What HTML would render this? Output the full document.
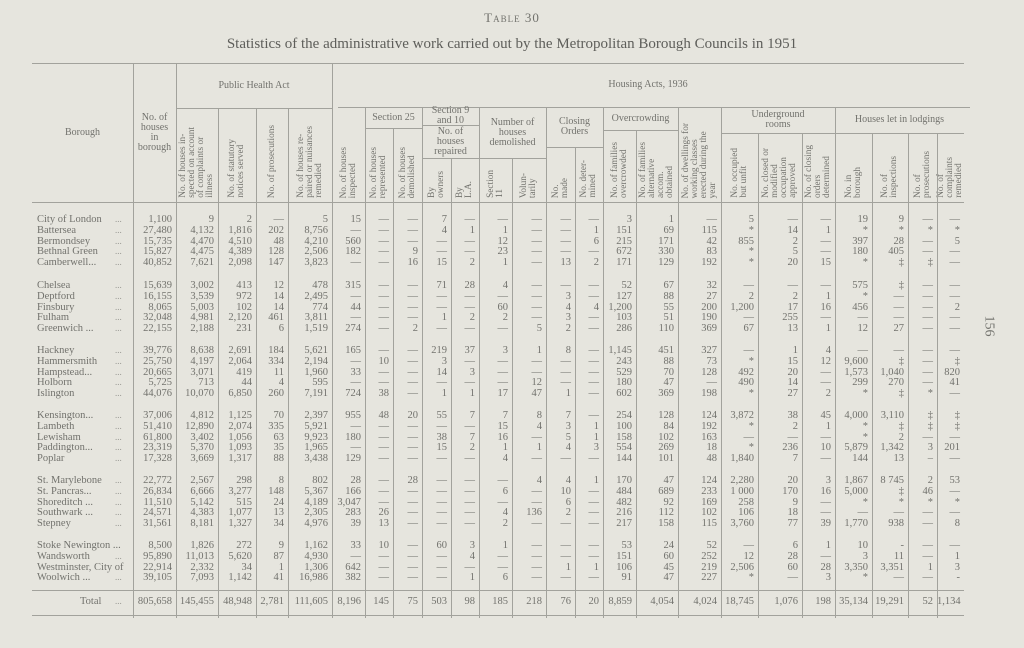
<!DOCTYPE html>
<html><head><meta charset="utf-8">
<style>
html,body{margin:0;padding:0}
body{width:1024px;height:648px;background:#e6e5de;position:relative;overflow:hidden;font-family:"Liberation Serif",serif;color:#72726d}
.a{position:absolute}
.hc{position:absolute;box-sizing:border-box;display:flex;align-items:center;justify-content:center;text-align:center;font-size:10px;line-height:10px}
.hv{align-items:flex-end;padding-bottom:4px}
.hv span{writing-mode:vertical-rl;transform:rotate(180deg);font-size:9.3px;line-height:9px;text-align:left;white-space:nowrap}
.hl{position:absolute;background:#a2a29c}
.cell{position:absolute;font-size:10.5px;line-height:11px;text-align:right;white-space:nowrap}
.nm{position:absolute;font-size:10.5px;line-height:11px;white-space:nowrap}
</style></head><body>
<div class="a" style="left:0;width:1024px;top:10px;text-align:center;font-size:13px;letter-spacing:1px;font-variant:small-caps">Table 30</div>
<div class="a" style="left:0;width:1024px;top:36px;text-align:center;font-size:15px;color:#5e5e5a">Statistics of the administrative work carried out by the Metropolitan Borough Councils in 1951</div>
<div class="a" style="left:978px;top:318px;font-size:14px;transform:rotate(90deg)">156</div>
<div id="tbl"></div>
<script>
const colEdges=[133,176,218,256,288,332,365,393,422,451,479,512,546,575,603,636,678,721,758,802,835,872,908,937,964];
const boroughs=["City of London","Battersea","Bermondsey","Bethnal Green","Camberwell...","Chelsea","Deptford","Finsbury","Fulham","Greenwich ...","Hackney","Hammersmith","Hampstead...","Holborn","Islington","Kensington...","Lambeth","Lewisham","Paddington...","Poplar","St. Marylebone","St. Pancras...","Shoreditch ...","Southwark ...","Stepney","Stoke Newington ...","Wandsworth","Westminster, City of","Woolwich ..."];
const D="—";
const rows=[
["1,100","9","2",D,"5","15",D,D,"7",D,D,D,D,D,"3","1",D,"5",D,D,"19","9",D,D],
["27,480","4,132","1,816","202","8,756",D,D,D,"4","1","1",D,D,"1","151","69","115","*","14","1","*","*","*","*"],
["15,735","4,470","4,510","48","4,210","560",D,D,D,D,"12",D,D,"6","215","171","42","855","2",D,"397","28",D,"5"],
["15,827","4,475","4,389","128","2,506","182",D,"9",D,D,"23",D,D,D,"672","330","83","*","5",D,"180","405",D,D],
["40,852","7,621","2,098","147","3,823",D,D,"16","15","2","1",D,"13","2","171","129","192","*","20","15","*","‡","‡",D],
["15,639","3,002","413","12","478","315",D,D,"71","28","4",D,D,D,"52","67","32",D,D,D,"575","‡",D,D],
["16,155","3,539","972","14","2,495",D,D,D,D,D,D,D,"3",D,"127","88","27","2","2","1","*",D,D,D],
["8,065","5,003","102","14","774","44",D,D,D,D,"60",D,"4","4","1,200","55","200","1,200","17","16","456",D,D,"2"],
["32,048","4,981","2,120","461","3,811",D,D,D,"1","2","2",D,"3",D,"103","51","190",D,"255",D,D,D,D,D],
["22,155","2,188","231","6","1,519","274",D,"2",D,D,D,"5","2",D,"286","110","369","67","13","1","12","27",D,D],
["39,776","8,638","2,691","184","5,621","165",D,D,"219","37","3","1","8",D,"1,145","451","327",D,"1","4",D,D,D,D],
["25,750","4,197","2,064","334","2,194",D,"10",D,"3",D,D,D,D,D,"243","88","73","*","15","12","9,600","‡",D,"‡"],
["20,665","3,071","419","11","1,960","33",D,D,"14","3",D,D,D,D,"529","70","128","492","20",D,"1,573","1,040",D,"820"],
["5,725","713","44","4","595",D,D,D,D,D,D,"12",D,D,"180","47",D,"490","14",D,"299","270",D,"41"],
["44,076","10,070","6,850","260","7,191","724","38",D,"1","1","17","47","1",D,"602","369","198","*","27","2","*","‡","*",D],
["37,006","4,812","1,125","70","2,397","955","48","20","55","7","7","8","7",D,"254","128","124","3,872","38","45","4,000","3,110","‡","‡"],
["51,410","12,890","2,074","335","5,921",D,D,D,D,D,"15","4","3","1","100","84","192","*","2","1","*","‡","‡","‡"],
["61,800","3,402","1,056","63","9,923","180",D,D,"38","7","16",D,"5","1","158","102","163",D,D,D,"*","2",D,D],
["23,319","5,370","1,093","35","1,965",D,D,D,"15","2","1","1","4","3","554","269","18","*","236","10","5,879","1,342","3","201"],
["17,328","3,669","1,317","88","3,438","129",D,D,D,D,"4",D,D,D,"144","101","48","1,840","7",D,"144","13","–",D],
["22,772","2,567","298","8","802","28",D,"28",D,D,D,"4","4","1","170","47","124","2,280","20","3","1,867","8 745","2","53"],
["26,834","6,666","3,277","148","5,367","166",D,D,D,D,"6",D,"10",D,"484","689","233","1 000","170","16","5,000","‡","46",D],
["11,510","5,142","515","24","4,189","3,047",D,D,D,D,D,D,"6",D,"482","92","169","258","9",D,"*","*","*","*"],
["24,571","4,383","1,077","13","2,305","283","26",D,D,D,"4","136","2",D,"216","112","102","106","18",D,D,D,D,D],
["31,561","8,181","1,327","34","4,976","39","13",D,D,D,"2",D,D,D,"217","158","115","3,760","77","39","1,770","938",D,"8"],
["8,500","1,826","272","9","1,162","33","10",D,"60","3","1",D,D,D,"53","24","52",D,"6","1","10","-",D,D],
["95,890","11,013","5,620","87","4,930",D,D,D,D,"4",D,D,D,D,"151","60","252","12","28",D,"3","11",D,"1"],
["22,914","2,332","34","1","1,306","642",D,D,D,D,D,D,"1","1","106","45","219","2,506","60","28","3,350","3,351","1","3"],
["39,105","7,093","1,142","41","16,986","382",D,D,D,"1","6",D,D,D,"91","47","227","*",D,"3","*",D,D,"-"]
];
const totals=["805,658","145,455","48,948","2,781","111,605","8,196","145","75","503","98","185","218","76","20","8,859","4,054","4,024","18,745","1,076","198","35,134","19,291","52","1,134"];
const groupStarts=[220,286,351,416,481,546];
const tbl=document.getElementById('tbl');
function line(x,y,w,h){const l=document.createElement('div');l.className='hl';l.style.cssText=`left:${x}px;top:${y}px;width:${w}px;height:${h}px`;


tbl.appendChild(l);}
const heads=[
[32,133,63,202,"Borough",0,"borough-header"],
[133,176,63,202,"No. of<br>houses<br>in<br>borough",0,"houses-in-borough-header"],
[176,332,63,108,"Public Health Act",0,"public-health-act-header"],
[176,218,108,202,"No. of houses in-<br>spected on account<br>of complaints or<br>illness",1,"ph-inspected-header"],
[218,256,108,202,"No. of statutory<br>notices served",1,"ph-notices-header"],
[256,288,108,202,"No. of prosecutions",1,"ph-prosecutions-header"],
[288,332,108,202,"No. of houses re-<br>paired or nuisances<br>remedied",1,"ph-repaired-header"],
[332,964,63,107,"Housing Acts, 1936",0,"housing-acts-header"],
[332,365,107,202,"No. of houses<br>inspected",1,"houses-inspected-header"],
[365,422,107,128,"Section 25",0,"section-25-header"],
[365,393,128,202,"No. of houses<br>represented",1,"represented-header"],
[393,422,128,202,"No. of houses<br>demolished",1,"demolished-header"],
[422,479,107,125,"Section 9<br>and 10",0,"section-9-10-header"],
[422,479,125,158,"No. of<br>houses<br>repaired",0,"houses-repaired-header"],
[422,451,158,202,"By<br>owners",1,"by-owners-header"],
[451,479,158,202,"By<br>L.A.",1,"by-la-header"],
[479,546,107,158,"Number of<br>houses<br>demolished",0,"number-demolished-header"],
[479,512,158,202,"Section<br>11",1,"section-11-header"],
[512,546,158,202,"Volun-<br>tarily",1,"voluntarily-header"],
[546,603,107,147,"Closing<br>Orders",0,"closing-orders-header"],
[546,575,147,202,"No.<br>made",1,"orders-made-header"],
[575,603,147,202,"No. deter-<br>mined",1,"orders-determined-header"],
[603,678,107,130,"Overcrowding",0,"overcrowding-header"],
[603,636,130,202,"No. of families<br>overcrowded",1,"families-overcrowded-header"],
[636,678,130,202,"No. of families<br>alternative<br>accom.<br>obtained",1,"alt-accom-header"],
[678,721,107,202,"No. of dwellings for<br>working classes<br>erected during the<br>year",1,"dwellings-erected-header"],
[721,835,107,133,"Underground<br>rooms",0,"underground-rooms-header"],
[721,758,133,202,"No. occupied<br>but unfit",1,"occupied-unfit-header"],
[758,802,133,202,"No. closed or<br>modified<br>occupation<br>approved",1,"closed-modified-header"],
[802,835,133,202,"No. of closing<br>orders<br>determined",1,"closing-determined-header"],
[835,964,107,133,"Houses let in lodgings",0,"lodgings-header"],
[835,872,133,202,"No. in<br>borough",1,"lodgings-in-borough-header"],
[872,908,133,202,"No. of<br>inspections",1,"lodgings-inspections-header"],
[908,937,133,202,"No. of<br>prosecutions",1,"lodgings-prosecutions-header"],
[937,964,133,202,"No. of<br>complaints<br>remedied",1,"lodgings-complaints-header"]
];
heads.forEach(h=>{
  const d=document.createElement('div');
  d.className='hc'+(h[5]?' hv':'');
  d.style.cssText=`left:${h[0]}px;top:${h[2]}px;width:${h[1]-h[0]}px;height:${h[3]-h[2]}px`;
  d.innerHTML=h[5]?`<span>${h[4]}</span>`:h[4];
  
  
  tbl.appendChild(d);
  if(h[0]>32) line(h[0],h[2],1,h[3]-h[2]);
  line(h[0]+(h[0]===332&&h[2]===63?6:0),h[3],h[1]-h[0],1);
});
line(32,63,932,1);
line(32,202,932,1);
colEdges.forEach((x,i)=>{ if(i<colEdges.length-1) line(x,202,1,416); });
const rowY=[];
groupStarts.forEach((g,gi)=>{const n=gi===5?4:5;for(let k=0;k<n;k++)rowY.push(g+k*10.8);});
function putRow(name,vals,y,rname){
  const nm=document.createElement('div');nm.className='nm';nm.style.left=(name==='Total'?80:37)+'px';nm.style.top=(y-6)+'px';
  nm.textContent=name;
  
  
  tbl.appendChild(nm);
  if(name.length<19){const dt=document.createElement('div');dt.className='nm';dt.style.left='115px';dt.style.top=(y-6)+'px';dt.style.fontSize='9px';dt.style.color='#9a9a94';dt.textContent='...';
  
  
  tbl.appendChild(dt);}
  vals.forEach((v,i)=>{
    const c=document.createElement('div');c.className='cell';
    const x1=colEdges[i],x2=colEdges[i+1];
    c.style.left=x1+'px';c.style.width=(x2-x1-4)+'px';c.style.top=(y-6)+'px';
    c.textContent=v;
    
    
    tbl.appendChild(c);
  });
}
rows.forEach((v,i)=>putRow(boroughs[i],v,rowY[i],'row-'+(i+1)));
line(32,590,932,1);
putRow('Total',totals,602,'total');
line(32,615,932,1);
</script>
</body></html>
